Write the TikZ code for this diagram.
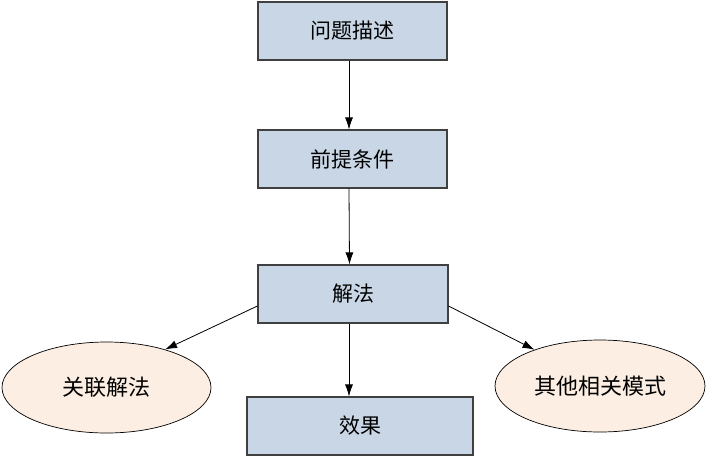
\documentclass[tikz,border=0pt]{standalone}
\usepackage{fontspec}
\newfontfamily\cjk{Noto Sans CJK SC}
\usetikzlibrary{arrows.meta,shapes.geometric}
\definecolor{boxfill}{HTML}{C9D6E5}
\definecolor{ellfill}{HTML}{FCEEE3}
\begin{document}
\begin{tikzpicture}[x=1pt,y=-1pt,
  box/.style={draw=black!75,line width=1.1pt,fill=boxfill,minimum height=58pt,inner sep=0pt,font=\cjk\fontsize{21}{21}\selectfont},
  ell/.style={ellipse,draw=black,line width=0.7pt,fill=ellfill,inner sep=0pt,font=\cjk\fontsize{22}{22}\selectfont},
  arr/.style={-{Latex[length=12pt,width=8pt]},line width=0.8pt}]
\useasboundingbox (0,0) rectangle (707,459);
\node[box,minimum width=189pt] (desc) at (352.5,31) {问题描述};
\node[box,minimum width=189pt] (pre) at (352.5,159) {前提条件};
\node[box,minimum width=190pt] (sol) at (353,294) {解法};
\node[box,minimum width=226pt] (eff) at (360,426) {效果};
\node[ell,minimum width=209pt,minimum height=91pt] (rel) at (106.5,387.5) {关联解法};
\node[ell,minimum width=210pt,minimum height=92pt] (oth) at (600,386) {其他相关模式};
\draw[arr] ([xshift=-3.5pt]desc.south) -- ([xshift=-3.5pt]pre.north);
\draw[arr] ([xshift=-3.5pt]pre.south) -- ([xshift=-3.5pt]sol.north);
\draw[arr] ([xshift=-4pt]sol.south) -- ([xshift=-4pt]sol.south |- eff.north);
\draw[arr] ([yshift=-12pt]sol.west) -- (rel.33);
\draw[arr] ([yshift=-12pt]sol.east) -- (oth.151);
\end{tikzpicture}
\end{document}
